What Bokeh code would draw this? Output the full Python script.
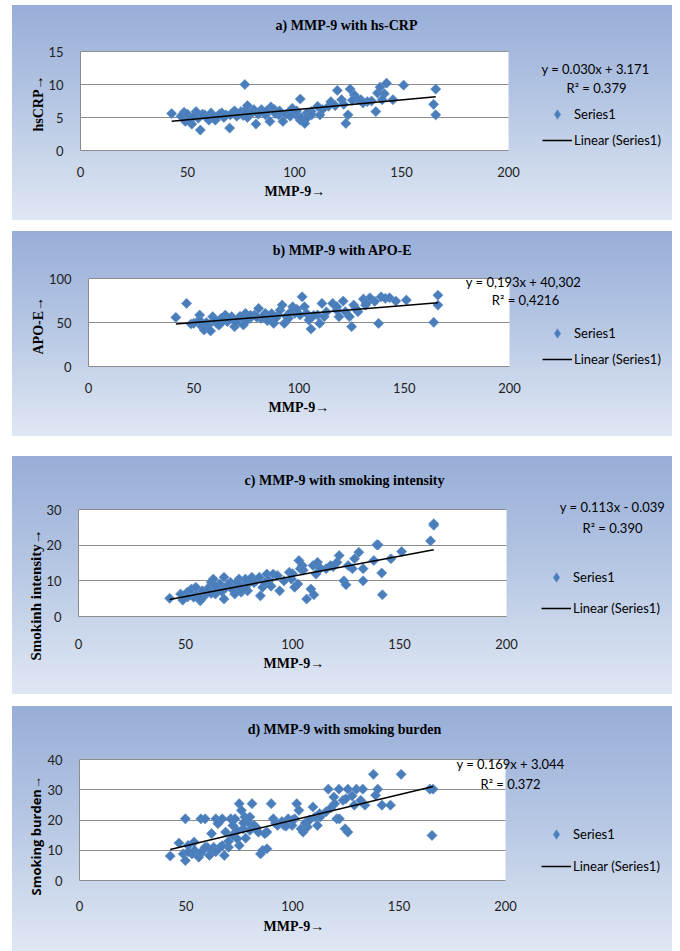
import numpy as np
from bokeh.plotting import figure
from bokeh.models import (Label, Legend, LegendItem, SingleIntervalTicker, Range1d,
                          BoxAnnotation, Spacer, Title)
from bokeh.layouts import column, row
from bokeh.embed import file_html
from bokeh.resources import INLINE

# ---------------- data ----------------
titles = ["a) MMP-9 with hs-CRP", "b) MMP-9 with APO-E",
          "c) MMP-9 with smoking intensity", "d) MMP-9 with smoking burden"]
y_titles = ["hsCRP\u2192", "APO-E\u2192", "Smokinh intensity\u2192", "Smoking burden\u2192"]
x_title = "MMP-9\u2192"
eq_texts = ["y = 0.030x + 3.171", "y = 0,193x + 40,302", "y = 0.113x - 0.039", "y = 0.169x + 3.044"]
r2_texts = ["R\u00b2 = 0.379", "R\u00b2 = 0,4216", "R\u00b2 = 0.390", "R\u00b2 = 0.372"]
legend_labels = ["Series1", "Linear (Series1)"]
slopes = [0.030, 0.193, 0.113, 0.169]
intercepts = [3.171, 40.302, -0.039, 3.044]
x_max = 200
x_step = 50
y_max = [15, 100, 30, 40]
y_step = [5, 50, 10, 10]

mmp9_a = [42.6, 48.4, 49, 52, 54, 55, 56, 58, 60, 61, 64, 66, 68, 69.7, 71, 73, 75, 76.8, 77, 78,
          79, 81, 82, 84.5, 86.5, 88.5, 89, 90.6, 92.6, 94.6, 97.7, 99, 100.7, 102.7, 102.7, 104.8,
          105.8, 107.8, 110.8, 111.9, 115.9, 117, 120, 122, 124, 125, 126, 128, 129.5, 131, 134, 138,
          138.8, 140, 141, 142, 143, 146, 151, 165, 166, 166,
          47, 50, 51, 53, 57, 59, 62, 63, 65, 67, 70, 72, 74, 76, 78, 80, 83, 85, 87, 91, 93, 96, 98,
          101, 103, 106, 108, 113, 119, 123, 127, 132, 136]
hscrp = [5.6, 5.8, 4.4, 4.0, 5.9, 4.9, 3.1, 5.4, 4.6, 5.7, 5.2, 5.7, 5.4, 3.4, 5.7, 5.2, 5.9, 10.0, 6.1, 6.8,
         5.4, 6.2, 4.0, 6.2, 5.4, 4.4, 6.6, 6.2, 5.4, 4.4, 5.9, 6.4, 5.4, 7.8, 4.6, 4.1,
         5.7, 5.9, 6.7, 5.4, 6.7, 7.4, 9.1, 7.7, 4.1, 5.4, 9.3, 8.4, 7.7, 7.7, 7.4, 5.9,
         8.7, 9.6, 7.7, 8.6, 10.2, 7.7, 9.9, 7.0, 9.3, 5.4,
         5.2, 5.5, 4.8, 5.2, 5.5, 5.0, 5.2, 4.6, 5.5, 5.0, 5.4, 6.0, 5.5, 5.3, 5.0, 5.7, 5.5, 5.9, 6.0, 5.6, 6.0, 5.5, 5.2,
         6.0, 5.0, 5.0, 5.4, 6.2, 6.8, 7.0, 7.6, 7.2, 7.5]

mmp9_b = [41.5, 46.6, 48.7, 51.8, 52.8, 53.9, 54.9, 57, 58, 59, 61, 63, 65, 66, 68, 69.4, 71.5, 73.6, 74.6,
          76.7, 78.8, 80.8, 81.9, 84, 86, 88, 90, 91, 92, 93, 95, 97, 98, 100.5, 101.5, 102.6, 103.6, 104.7,
          105.7, 108.8, 109.8, 110.9, 112, 116, 118, 119, 121, 122, 124, 125, 126, 128, 130.6, 131.6, 133.7,
          137.8, 139, 141, 143, 146, 151, 164, 166, 166,
          50, 53, 56, 60, 62, 64, 67, 70, 72, 75, 77, 80, 83, 85, 87, 89, 94, 96, 99, 107, 113, 118, 127, 132, 136]
apoe = [55.8, 71.7, 48.3, 51, 58.5, 45.3, 41.5, 47.2, 40.4, 56.6, 49, 54.7, 58.5, 51, 56.6, 45.3, 54.7, 47.2, 60.4,
        54.7, 58.5, 66, 54.7, 60.4, 54.7, 49, 58.5, 64, 69.8, 49, 54.7, 67.9, 60.4, 58.5, 79.2, 67.9, 60.4, 52.8,
        42.6, 58.5, 49, 71.7, 56.6, 71.7, 64, 56.6, 74.3, 62.3, 56.6, 45.3, 69.8, 62.3, 76.6, 69.8, 78.1,
        49, 79.2, 77.4, 78.1, 74.3, 75.5, 50.2, 81, 69.8,
        49, 52, 50, 53, 47, 52, 54, 50, 57, 52, 58, 56, 57, 52, 60, 55, 57, 62, 65, 58, 62, 68, 66, 72, 74]

mmp9_c = [42.6, 47.7, 48.7, 50.8, 52.8, 53.8, 54.8, 56.9, 57.9, 58.9, 61, 62, 63, 64, 65, 66, 68, 68, 69, 71,
          73, 74, 75, 76, 77, 78, 79, 80, 81, 83, 84.5, 85, 86, 88, 89, 91, 93, 94, 98.5, 99.5, 101, 102.5,
          103, 103.6, 104.6, 106.6, 108.6, 109.6, 110, 111, 111.7, 115.7, 117.8, 120.8, 121.8, 124, 125, 126,
          128, 129, 131, 133, 133, 138, 139.4, 140, 141.7, 142, 146, 151, 164.5, 166, 166,
          51, 55, 57, 60, 62, 64, 67, 70, 72, 74, 76, 78, 82, 87, 90, 96, 100, 105, 113, 119]
smoking_intensity = [5.1, 6.3, 4.6, 6.8, 7.7, 5.4, 8.2, 4.4, 7.2, 5.8, 8.2, 9.6, 10.5, 6.3, 7.7, 9.1, 11, 4.9, 8.2, 9.6,
                     6.3, 8.2, 10.5, 6.8, 8.7, 10.5, 7.2, 9.6, 11, 10, 11, 5.8, 8.2, 11.9, 10, 11.9, 11.5, 7.2, 12.4, 10.5, 8.2, 9.1,
                     15.7, 13.4, 14.3, 4.9, 7.7, 14.3, 6.1, 11.9, 15.2, 13.4, 14.3, 15.2, 17.1, 10, 8.9, 14.3,
                     13.4, 16.2, 18, 13.4, 10, 15.7, 20.1, 20.1, 12.2, 6.1, 16.2, 18.2, 21.2, 25.6, 26,
                     5.5, 6, 5, 7, 6.5, 8.5, 7, 9, 7.5, 9.5, 7.5, 8, 9.5, 9.5, 8.5, 10, 12, 13, 13.5, 14]

mmp9_d = [42.6, 46.7, 48.7, 49.7, 49.7, 51, 52.8, 53.8, 56, 57, 58, 59, 60, 61, 62, 63, 64, 65, 66, 67, 68, 68.6,
          70, 71, 72, 73, 74, 75, 75, 76, 76.8, 77.6, 79, 80, 81, 82, 84, 85, 86, 88, 88, 90, 91, 93, 96, 98, 99.8,
          101, 102, 103, 104, 105, 107, 109.6, 110.6, 111.7, 112.7, 115.7, 116.8, 119.4, 119.8, 120.8, 121.8, 122,
          123.7, 124.7, 126, 126, 129, 130, 132, 133, 134, 138, 139, 140, 142, 146, 151, 164.5, 165.5, 166,
          51, 54, 57, 59, 62, 64, 67, 70, 72, 74, 77, 78, 80, 83, 87, 92, 95, 97, 100, 106, 108, 113, 118, 125, 128]
smoking_burden = [8.1, 12.4, 8.8, 20.4, 6.6, 11.6, 8.8, 12.7, 7.7, 20.4, 10, 20.4, 11, 8.3, 15.5, 11, 20.4, 18.8, 11, 20.4, 8.3, 16,
                  11, 20.4, 18.2, 20.4, 13.8, 25.4, 11.6, 23.2, 17.1, 21, 19.3, 16.6, 25.4, 18.2, 16, 8.8, 10, 10.5, 16, 25.4, 20.4, 18.2, 18.2, 20.4, 18.2,
                  20.4, 25.4, 23.2, 17.1, 16, 17.7, 24.3, 21, 18.2, 22.1, 22.7, 30.2, 27.6, 25.4, 20.4, 30.2, 20.4,
                  26.5, 17.1, 16, 30.2, 24.9, 30.2, 26.5, 30.2, 24.9, 35.1, 28.2, 30.2, 24.9, 24.9, 35.1, 30.2, 14.9, 30.2,
                  9.5, 10, 9, 11, 10, 9.5, 11.5, 13, 15, 16.5, 19, 14, 21, 17.5, 15.5, 19, 19.5, 18, 20, 19, 20, 21, 24, 27, 28]

xs_all = [mmp9_a, mmp9_b, mmp9_c, mmp9_d]
ys_all = [hscrp, apoe, smoking_intensity, smoking_burden]

# ---------------- layout (page pixels) ----------------
FIG_X0 = 12          # left edge of every panel
FIG_W = 660
fig_top = [5, 231, 456, 706]
fig_h = [215, 205, 238, 245]
area_left = [80, 88, 78, 79]        # x = 0
area_right = [508, 509, 506, 505]   # x = 200
area_top = [51, 278, 509, 759]      # y = max
area_bottom = [150, 366, 616, 880]  # y = 0
title_c = [(346, 25), (342, 250), (344, 480), (344, 729)]
eq_c = [(595, 68), (523, 281), (612, 506), (510, 763)]
r2_c = [(596, 87), (525, 299), (612, 527), (510, 783)]
legend_c = [(542, 114), (542, 333), (541, 577), (541, 834)]   # glyph left, first-item centre
legend_gap = [26, 26, 31, 32]                                   # centre-to-centre
ITEM_H = 24
xtick_standoff = [12, 12, 18, 16]
xlab_standoff = [4, 4, 5, 6]
xlab_left = [264, 268, 263, 263]      # left end of the x-axis title
ylab_bottom = [131, 354, 660, 895]    # lower end of the (rotated) y-axis title
ylab_font = ["Liberation Serif", "Liberation Serif", "Liberation Serif", "Open Sans"]
ylab_size = ["14px", "14px", "15px", "13px"]

BLUE = "#4A7EBB"
EDGE = "#5A8AC6"
GRID = "#8C8C8C"

children = []
prev_bottom = 0
for i in range(4):
    fb = fig_top[i] + fig_h[i]
    px_x = (area_right[i] - area_left[i]) / x_max
    px_y = (area_bottom[i] - area_top[i]) / y_max[i]
    x_end = (FIG_X0 + FIG_W - area_left[i]) / px_x
    y_end = (area_bottom[i] - fig_top[i]) / px_y

    p = figure(width=FIG_W, height=fig_h[i], output_backend="svg", toolbar_location=None,
               x_range=Range1d(0, x_end), y_range=Range1d(0, y_end),
               min_border_left=area_left[i] - FIG_X0, min_border_right=0,
               min_border_top=0, min_border_bottom=fb - area_bottom[i],
               background_fill_alpha=0.0, border_fill_alpha=0.0,
               outline_line_color=None)
    p.styles = {"background": "linear-gradient(to bottom, #98AED8 0%, #B5C6E3 45%, #DFE7F3 100%)"}

    # white plot area
    p.add_layout(BoxAnnotation(left=0, right=x_max, bottom=0, top=y_max[i],
                               fill_color="white", fill_alpha=1.0, line_color=None,
                               level="image"))

    sc = p.scatter(xs_all[i], ys_all[i], marker="square", size=7.2, angle=np.pi / 4,
                   fill_color=BLUE, line_color=EDGE, line_width=0.6)
    xx = np.array([min(xs_all[i]), max(xs_all[i])])
    ln = p.line(xx, slopes[i] * xx + intercepts[i], line_color="black", line_width=1.5)
    # legend swatch only: a diamond renderer whose single entry is NaN (never drawn in the plot)
    leg_marker = p.scatter(x=[np.nan], y=[np.nan], marker="diamond", size=10,
                           fill_color=BLUE, line_color=EDGE, line_width=0.6)

    p.xaxis.ticker = SingleIntervalTicker(interval=x_step)
    p.yaxis.ticker = SingleIntervalTicker(interval=y_step[i])
    p.xaxis.bounds = (0, x_max)
    p.yaxis.bounds = (0, y_max[i])
    p.xgrid.visible = False
    p.ygrid.grid_line_color = GRID
    p.ygrid.grid_line_width = 1
    p.ygrid.bounds = (0, y_max[i])
    g = p.ygrid[0]
    if "cross_bounds" in g.properties():
        g.cross_bounds = (0, x_max)
    for ax in (p.xaxis[0], p.yaxis[0]):
        ax.axis_line_color = GRID
        ax.major_tick_line_color = None
        ax.minor_tick_line_color = None
        ax.major_tick_out = 0
        ax.major_tick_in = 0
        ax.major_label_text_font = "Lato"
        ax.major_label_text_font_size = "13px"
        ax.major_label_text_color = "#222222"
    p.xaxis.major_label_standoff = xtick_standoff[i]
    p.yaxis.major_label_standoff = 13

    # axis titles placed along the plot area (0..200 / 0..max), not the whole frame
    p.add_layout(Title(text=x_title, align="left", offset=xlab_left[i] - area_left[i],
                       standoff=xlab_standoff[i], text_font="Liberation Serif", text_font_style="bold",
                       text_font_size="14px", text_color="black"), "below")
    p.add_layout(Title(text=y_titles[i], align="left", offset=area_bottom[i] - ylab_bottom[i],
                       standoff=-1, text_font=ylab_font[i], text_font_style="bold",
                       text_font_size=ylab_size[i], text_color="black"), "left")

    def sx(x):
        return x - area_left[i]

    def sy(y):
        return area_bottom[i] - y

    p.add_layout(Label(x=sx(title_c[i][0]), y=sy(title_c[i][1]), x_units="screen", y_units="screen",
                       text=titles[i], text_align="center", text_baseline="middle",
                       text_font="Liberation Serif", text_font_style="bold",
                       text_font_size="14px", text_color="black"))
    p.add_layout(Label(x=sx(eq_c[i][0]), y=sy(eq_c[i][1]), x_units="screen", y_units="screen",
                       text=eq_texts[i], text_align="center", text_baseline="middle",
                       text_font="Lato", text_font_size="13px", text_color="black"))
    p.add_layout(Label(x=sx(r2_c[i][0]), y=sy(r2_c[i][1]), x_units="screen", y_units="screen",
                       text=r2_texts[i], text_align="center", text_baseline="middle",
                       text_font="Lato", text_font_size="13px", text_color="black"))

    spacing = legend_gap[i] - ITEM_H
    leg_h = 2 * ITEM_H + spacing
    lx, lyc = legend_c[i]
    ltop = lyc - ITEM_H / 2
    leg = Legend(items=[LegendItem(label=legend_labels[0], renderers=[leg_marker]),
                        LegendItem(label=legend_labels[1], renderers=[ln])],
                 location=(sx(lx), sy(ltop + leg_h)), orientation="vertical",
                 background_fill_alpha=0.0, border_line_alpha=0.0,
                 padding=0, margin=0, spacing=spacing,
                 glyph_width=30, glyph_height=ITEM_H, label_height=ITEM_H, label_standoff=2,
                 label_text_font="Lato", label_text_font_size="13px", label_text_color="black")
    p.add_layout(leg)

    children.append(Spacer(height=fig_top[i] - prev_bottom, width=10))
    children.append(row(Spacer(width=FIG_X0, height=fig_h[i]), p, spacing=0))
    prev_bottom = fb

layout = column(*children, spacing=0)
open("out.html", "w").write(file_html(layout, INLINE))
